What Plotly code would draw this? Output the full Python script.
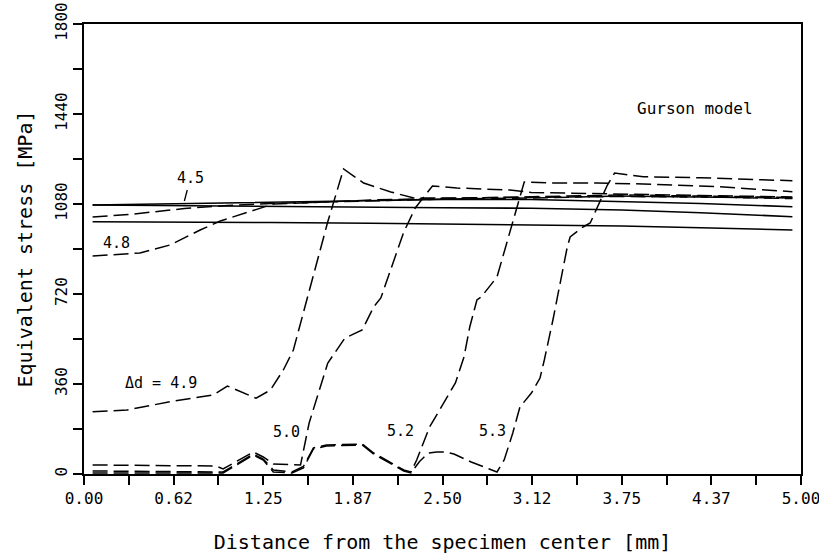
import plotly.graph_objects as go

# ---- data ----
x_solid = [0.06, 0.9, 1.3, 2.0, 2.5, 3.12, 3.75, 4.3, 4.94]
solid_a = [1076, 1084, 1088, 1094, 1098, 1098, 1090, 1082, 1069]
solid_b = [1076, 1072, 1068, 1066, 1065, 1063, 1056, 1045, 1029]
solid_c = [1009, 1008, 1006, 1003, 1000, 997, 992, 985, 976]

x_45 = [0.06, 0.35, 0.7, 1.0, 1.3, 2.0, 2.5, 3.12, 3.75, 4.3, 4.94]
y_45 = [1028, 1040, 1062, 1074, 1082, 1094, 1100, 1104, 1112, 1108, 1102]

x_48 = [0.06, 0.39, 0.6, 0.81, 0.95, 1.1, 1.23, 1.32, 1.6, 2.0, 2.5, 3.12, 3.75, 4.3, 4.94]
y_48 = [872, 884, 916, 976, 1012, 1040, 1064, 1080, 1086, 1096, 1102, 1108, 1116, 1112, 1106]

x_49 = [0.06, 0.30, 0.60, 0.90, 1.00, 1.09, 1.20, 1.30, 1.39, 1.46, 1.70, 1.81, 1.95,
        2.14, 2.30, 2.6, 3.12, 3.75, 4.3, 4.94]
y_49 = [249, 256, 289, 316, 352, 329, 303, 336, 416, 496, 1009, 1220, 1164,
        1128, 1104, 1104, 1106, 1110, 1108, 1104]

x_50 = [0.06, 0.5, 0.92, 0.97, 1.18, 1.25, 1.32, 1.51, 1.57, 1.70, 1.82, 1.94, 2.02,
        2.07, 2.23, 2.31, 2.43, 2.6, 2.97, 3.12, 3.75, 4.3, 4.94]
y_50 = [36, 34, 32, 20, 88, 68, 40, 36, 204, 444, 544, 576, 668,
        704, 968, 1064, 1152, 1144, 1136, 1126, 1118, 1114, 1108]

x_52 = [0.06, 0.5, 0.92, 0.97, 1.18, 1.25, 1.32, 1.45, 1.53, 1.60, 1.69, 1.94, 2.02,
        2.14, 2.23, 2.28, 2.32, 2.41, 2.52, 2.59, 2.65, 2.69, 2.74, 2.77, 2.88, 2.97,
        3.02, 3.07, 3.25, 3.58, 3.9, 4.4, 4.94]
y_52 = [12, 10, 10, 8, 80, 60, 16, 8, 30, 104, 116, 120, 84,
        44, 16, 8, 56, 188, 296, 364, 468, 588, 696, 708, 788, 968,
        1064, 1168, 1164, 1164, 1160, 1150, 1129]

x_53 = [0.06, 0.5, 0.92, 0.97, 1.18, 1.25, 1.32, 1.45, 1.53, 1.60, 1.69, 1.94, 2.02,
        2.14, 2.23, 2.28, 2.34, 2.40, 2.46, 2.52, 2.58, 2.70, 2.75, 2.88, 2.93, 2.99,
        3.04, 3.12, 3.18, 3.21, 3.27, 3.31, 3.37, 3.39, 3.48, 3.53, 3.58, 3.65, 3.70,
        3.9, 4.3, 4.94]
y_53 = [4, 4, 4, 4, 76, 56, 8, 4, 24, 100, 112, 116, 80,
        40, 12, 4, 50, 84, 88, 88, 80, 48, 36, 8, 56, 164,
        268, 324, 384, 456, 616, 728, 908, 948, 988, 1004, 1068, 1156, 1204,
        1189, 1185, 1173]

x_tickvals = [0.0, 0.625, 1.25, 1.875, 2.5, 3.125, 3.75, 4.375, 5.0]
x_ticktext = ["0.00", "0.62", "1.25", "1.87", "2.50", "3.12", "3.75", "4.37", "5.00"]
y_tickvals = [0, 360, 720, 1080, 1440, 1800]
y_ticktext = ["0", "360", "720", "1080", "1440", "1800"]

labels = [
    ("4.5", 0.74, 1184),
    ("4.8", 0.23, 924),
    ("Δd = 4.9", 0.54, 364),
    ("5.0", 1.41, 168),
    ("5.2", 2.21, 172),
    ("5.3", 2.85, 172),
]

FONT = "DejaVu Sans Mono"
DASH = "15px,6px"

fig = go.Figure()
for ys in (solid_a, solid_b, solid_c):
    fig.add_trace(go.Scatter(x=x_solid, y=ys, mode="lines",
                             line=dict(color="black", width=1.6), showlegend=False))
for xs, ys in ((x_45, y_45), (x_48, y_48), (x_49, y_49), (x_50, y_50),
               (x_52, y_52), (x_53, y_53)):
    fig.add_trace(go.Scatter(x=xs, y=ys, mode="lines",
                             line=dict(color="black", width=1.5, dash=DASH),
                             showlegend=False))

for txt, xv, yv in labels:
    fig.add_annotation(x=xv, y=yv, text=txt, showarrow=False,
                       font=dict(family=FONT, size=15, color="black"))
fig.add_annotation(x=4.26, y=1462, text="Gurson model", showarrow=False,
                   font=dict(family=FONT, size=16, color="black"))
# leader line for the 4.5 label
fig.add_shape(type="line", x0=0.72, y0=1136, x1=0.70, y1=1092,
              line=dict(color="black", width=1.3))

axis_common = dict(showgrid=False, zeroline=False, showline=True, linecolor="black",
                   linewidth=2, mirror=True, ticks="outside", ticklen=9, tickwidth=1.5,
                   tickcolor="black", ticklabeloverflow="allow", automargin=False,
                   tickfont=dict(family=FONT, size=16, color="black"))

fig.update_xaxes(range=[0, 5], tickmode="array", tickvals=x_tickvals, ticktext=x_ticktext,
                 minor=dict(dtick=0.3125, tick0=0, ticks="outside", ticklen=9,
                            tickwidth=1.5, tickcolor="black"),
                 title=dict(text="Distance from the specimen center [mm]",
                            font=dict(family=FONT, size=20, color="black"), standoff=28),
                 **axis_common)
fig.update_yaxes(range=[0, 1800], tickmode="array", tickvals=y_tickvals, ticktext=y_ticktext,
                 tickangle=-90,
                 minor=dict(dtick=180, tick0=0, ticks="outside", ticklen=9,
                            tickwidth=1.5, tickcolor="black"),
                 title=dict(text="Equivalent stress [MPa]",
                            font=dict(family=FONT, size=20, color="black"), standoff=14),
                 **axis_common)

fig.update_layout(width=819, height=560, margin=dict(l=84, r=18, t=24, b=86),
                  paper_bgcolor="white", plot_bgcolor="white", showlegend=False)

fig.write_html("out.html")
